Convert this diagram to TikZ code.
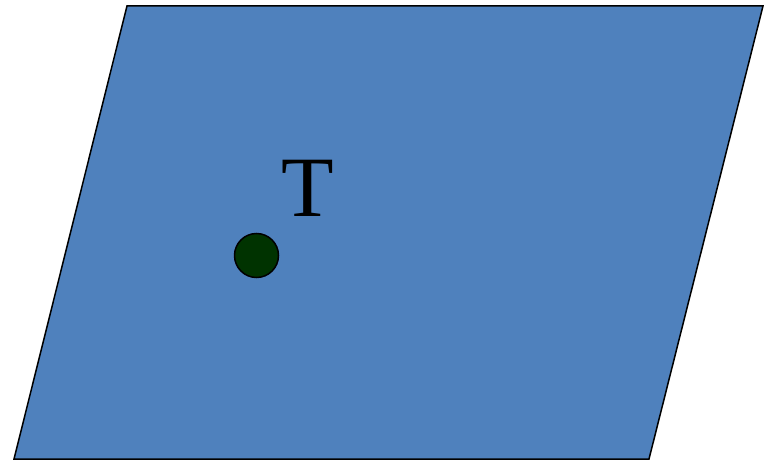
\documentclass[tikz,border=0pt]{standalone}
\usepackage{fontspec}
\setmainfont{Liberation Serif}
\definecolor{planeblue}{HTML}{4F81BD}
\definecolor{dotgreen}{HTML}{003300}
\tikzset{
  plane/.style={draw=black, fill=planeblue, line width=1.5pt, line join=miter},
  pointdot/.style={circle, draw=black, fill=dotgreen, line width=1.5pt, minimum size=44pt, inner sep=0pt},
  lbl/.style={inner sep=0pt, font=\fontsize{86}{90}\selectfont}
}
\begin{document}
\begin{tikzpicture}[x=1pt, y=-1pt]
\useasboundingbox (0,0) rectangle (770,462);
\coordinate (p1) at (127,6);
\coordinate (p2) at (763,6);
\coordinate (p3) at (649,459);
\coordinate (p4) at (14,459);
\draw[plane] (p1) -- (p2) -- (p3) -- (p4) -- cycle;
\node[pointdot] (t) at (256.5,255.5) {};
\node[lbl, anchor=base] (tl) at (307.5,217) {T};
\end{tikzpicture}
\end{document}
